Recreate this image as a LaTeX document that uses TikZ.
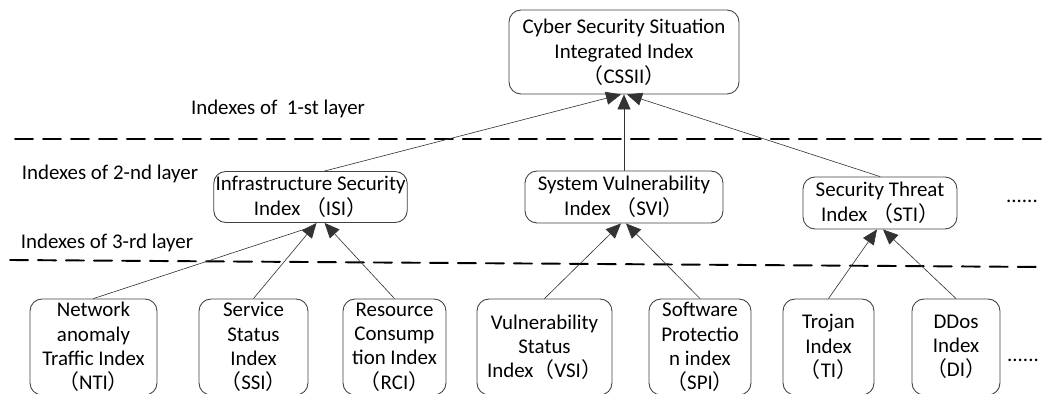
\documentclass[tikz,border=0pt]{standalone}
\usepackage{fontspec}
\setmainfont{Carlito}
\newfontfamily\cjk{Noto Sans CJK SC}
\usetikzlibrary{arrows.meta}
\newcommand{\lpar}{{\cjk （}}
\newcommand{\rpar}{{\cjk ）}}

\begin{document}
\begin{tikzpicture}[x=0.02cm, y=-0.02cm, >={Triangle[length=0.3cm, width=0.26cm]}, line cap=round, line join=round]
		
		% ================= 1. styles =================
		\tikzset{
			idx/.style={draw=black!75, line width=0.5pt, rounded corners=0.24cm, align=center, inner sep=1pt,
				font=\fontsize{11.9}{14.2}\selectfont},
			low/.style={idx, minimum height=1.92cm, font=\fontsize{11.9}{13.8}\selectfont},
			layer/.style={font=\fontsize{11.9}{14.2}\selectfont},
			link/.style={line width=0.35pt, draw=black!80},
			sep/.style={line width=1.1pt, dash pattern=on 0.36cm off 0.2cm}
		}
		\clip (0,0) rectangle (1042,394);
		
		% ================= 2. layer separators and labels =================
		\draw[sep] (15,139) -- (1042,139);
		\draw[sep] (10,260) -- (1042,267);
		\node[layer] (l1) at (278,109) {Indexes of\ \ 1-st layer};
		\node[layer] (l2) at (110,174) {Indexes of 2-nd layer};
		\node[layer] (l3) at (107,243) {Indexes of 3-rd layer};
		
		% ================= 3. 1-st and 2-nd layer =================
		\node[idx, minimum width=4.6cm, minimum height=1.68cm] (cssii) at (624,52)
		{Cyber Security Situation\\Integrated Index\\\lpar CSSII\rpar};
		\node[idx, minimum width=3.58cm, minimum height=1.02cm] (isi) at (310.5,197)
		{Infrastructure Security\\Index \lpar ISI\rpar};
		\node[idx, minimum width=3.96cm, minimum height=1.04cm] (svi) at (624,197)
		{System Vulnerability\\Index \lpar SVI\rpar};
		\node[idx, minimum width=3.08cm, minimum height=1.04cm] (sti) at (880,203)
		{Security Threat\\Index \lpar STI\rpar};
		\node[layer] (more2) at (1022,201) {......};
		
		% ================= 4. 3-rd layer =================
		\node[low, minimum width=2.54cm] (nti) at (93.5,347) {Network\\anomaly\\Traffic Index\\\lpar NTI\rpar};
		\node[low, minimum width=2.18cm] (ssi) at (253.5,347) {Service\\Status\\Index\\\lpar SSI\rpar};
		\node[low, minimum width=2.06cm] (rci) at (394.5,347) {Resource\\Consump\\tion Index\\\lpar RCI\rpar};
		\node[low, minimum width=2.70cm] (vsi) at (544.5,347) {Vulnerability\\Status\\Index\lpar VSI\rpar};
		\node[low, minimum width=2.04cm] (spi) at (700,347) {Software\\Protectio\\n index\\\lpar SPI\rpar};
		\node[low, minimum width=1.82cm] (ti) at (828.5,347) {Trojan\\Index\\\lpar TI\rpar};
		\node[low, minimum width=1.76cm] (di) at (956,347) {DDos\\Index\\\lpar DI\rpar};
		\node[layer] (more3) at (1023,360) {......};
		
		% ================= 5. connectors =================
		\draw[link, ->] ([xshift=0.28cm]isi.north) -- ([xshift=-0.06cm]cssii.south);
		\draw[link, ->] (svi.north) -- (cssii.south);
		\draw[link, ->] (sti.north) -- ([xshift=0.06cm]cssii.south);
		
		\draw[link] (nti.north) -- ([xshift=-0.1cm, yshift=-0.12cm]isi.south);
		\draw[link, ->] (ssi.north) -- ([xshift=0.12cm]isi.south);
		\draw[link, ->] (rci.north) -- ([xshift=0.28cm]isi.south);
		\draw[link, ->] (vsi.north) -- ([xshift=-0.06cm]svi.south);
		\draw[link, ->] (spi.north) -- ([xshift=0.04cm]svi.south);
		\draw[link, ->] (ti.north) -- ([xshift=-0.06cm]sti.south);
		\draw[link, ->] (di.north) -- ([xshift=0.06cm]sti.south);
		
	\end{tikzpicture}
\end{document}
